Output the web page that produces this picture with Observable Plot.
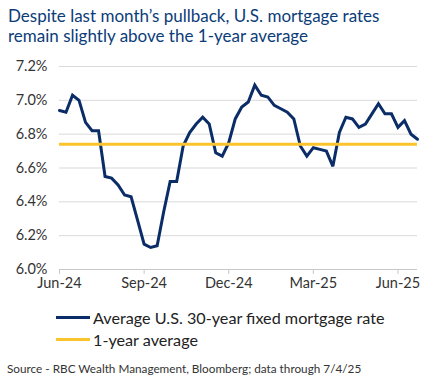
<!DOCTYPE html>
<html>
<head>
<meta charset="utf-8">
<script src="https://cdn.jsdelivr.net/npm/d3@7"></script>
<script src="https://cdn.jsdelivr.net/npm/@observablehq/plot@0.6"></script>
<style>
  html, body { margin: 0; padding: 0; background: #fff; }
  #wrap { position: relative; width: 432px; height: 391px; overflow: hidden; font-family: Lato, "Noto Sans", sans-serif; }
  #title { position: absolute; left: 8px; top: 5.5px; margin: 0; font-size: 17px; line-height: 20px; color: #0b3c78; font-weight: normal; white-space: nowrap; }
  #chart { position: absolute; left: 0; top: 48px; }
  .leg { position: absolute; left: 56px; height: 22px; display: flex; align-items: center; font-size: 16.2px; color: #222; white-space: nowrap; }
  .sw { width: 34px; height: 3px; margin-right: 3px; }
  #source { position: absolute; left: 7px; top: 361px; font-size: 11.75px; color: #333; white-space: nowrap; }
</style>
</head>
<body>
<div id="wrap">
  <div id="title">Despite last month’s pullback, U.S. mortgage rates<br>remain slightly above the 1-year average</div>
  <div id="chart"></div>
  <div class="leg" style="top:306.5px"><div class="sw" style="background:#0a2c67"></div>Average U.S. 30-year fixed mortgage rate</div>
  <div class="leg" style="top:328.5px"><div class="sw" style="background:#fcc42c"></div>1-year average</div>
  <div id="source">Source - RBC Wealth Management, Bloomberg; data through 7/4/25</div>
</div>
<script>
// Weekly average U.S. 30-year fixed mortgage rate (%), mid-Jun 2024 to early Jul 2025
const rates = [
  6.94, 6.93, 7.03, 7.00, 6.87, 6.82, 6.82, 6.55, 6.54, 6.50,
  6.44, 6.43, 6.29, 6.15, 6.13, 6.14, 6.34, 6.52, 6.52, 6.73,
  6.81, 6.86, 6.90, 6.86, 6.69, 6.67, 6.75, 6.89, 6.96, 6.99,
  7.09, 7.03, 7.02, 6.97, 6.95, 6.93, 6.89, 6.73, 6.67, 6.72,
  6.71, 6.70, 6.61, 6.81, 6.90, 6.89, 6.84, 6.86, 6.92, 6.98,
  6.92, 6.92, 6.84, 6.88, 6.80, 6.77
];
const oneYearAverage = 6.74;
const xTickIndex = [0, 13, 26, 39, 52];
const xTickLabels = ["Jun-24", "Sep-24", "Dec-24", "Mar-25", "Jun-25"];
const yTicks = [6.0, 6.2, 6.4, 6.6, 6.8, 7.0, 7.2];

const navy = "#0a2c67";
const gold = "#fcc42c";

const chart = Plot.plot({
  width: 432,
  height: 248,
  marginTop: 18,
  marginBottom: 27,
  marginLeft: 59,
  marginRight: 15,
  style: { fontFamily: "Lato, 'Noto Sans', sans-serif", fontSize: "14.5px", color: "#333", background: "#fff" },
  x: { type: "linear", domain: [0, rates.length - 1], label: null },
  y: { domain: [6.0, 7.2], label: null },
  marks: [
    Plot.gridY(yTicks, { stroke: "#d9d9d9", strokeOpacity: 1, strokeWidth: 1 }),
    Plot.ruleY([6.0], { stroke: "#c8c8c8", strokeWidth: 1.2 }),
    Plot.axisY(yTicks, { tickSize: 0, tickPadding: 12, tickFormat: d => d.toFixed(1) + "%", fill: "#333" }),
    Plot.axisX(xTickIndex, { tickSize: 5, tickPadding: 3, stroke: "#c8c8c8", fill: "#333",
      tickFormat: d => xTickLabels[xTickIndex.indexOf(d)] }),
    Plot.line(rates, { x: (d, i) => i, y: d => d, stroke: navy, strokeWidth: 3, strokeLinejoin: "miter", strokeMiterlimit: 3 }),
    Plot.ruleY([oneYearAverage], { stroke: gold, strokeWidth: 3 })
  ]
});
document.getElementById("chart").appendChild(chart);
</script>
</body>
</html>
